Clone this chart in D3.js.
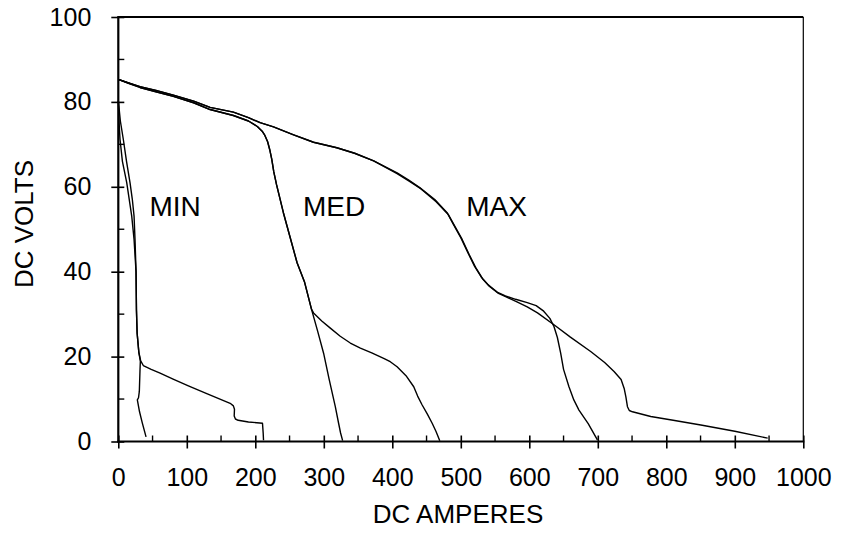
<!DOCTYPE html>
<html>
<head>
<meta charset="utf-8">
<script src="https://cdn.jsdelivr.net/npm/d3@7"></script>
<style>
  html, body { margin: 0; padding: 0; background: #fff; }
  svg { display: block; }
  text { font-family: "Liberation Sans", Arial, Helvetica, sans-serif; fill: #000; }
</style>
</head>
<body>
<svg id="chart" width="844" height="534"></svg>
<script>
// ---------- data (DC amperes, DC volts) ----------
const xTickValues = [0, 100, 200, 300, 400, 500, 600, 700, 800, 900, 1000];
const yTickValues = [0, 20, 40, 60, 80, 100];
const xMinorTicks = [50, 150, 250, 350, 450, 550, 650, 750, 850, 950];
const yMinorTicks = [10, 30, 50, 70, 90];

const curveLabels = ["MIN", "MED", "MAX"];
const labelAmps  = [45.5, 269.5, 508];
const labelVolts = [53.5, 53.5, 53.5];

const minA = [[0,80.3],[3,75.5],[7.3,71.2],[12,66],[17.1,61],[20.5,57],[23,53.1],[24.4,47.6],[25.9,40],[26.5,31],[27.5,25.5],[30,21],[32.7,19],
  [36.5,17.9],[48,17],[61,16.1],[80,14.7],[102.3,13.1],[130,11.2],[163.3,9],[168,8.4],[169.6,7.6],[169.2,6],[171,5.3],[175,5.0],[190,4.6],[210.5,4.3],[211.5,2],[212,0.3]];
const minB = [[0,80.3],[1.5,74],[2.5,71.2],[6,66],[12.3,61],[16,57],[19.6,53.1],[23,47.6],[25.9,40],[26.5,31],[27.5,25.5],[30,21],[32.2,18.9],
  [31.7,16.9],[30.7,11.8],[29.5,10.3],[27.8,9.8],[31,7],[35,4.4],[40.5,1.1]];

const medA = [[0,85.3],[15,84.4],[31.7,83.4],[55,82.4],[80.4,81.3],[110,79.8],[134,78.2],[168,76.8],[190,75.5],[203,74.2],[210,73.1],[214,72.1],
  [218,70.6],[221,68.8],[224,66.5],[227,63.5],[231,60.5],[241,53.9],[251,48],[261,42.1],[272,37.5],[282,31.2],
  [291,26],[299.7,20.8],[308,14.5],[316.8,8.2],[321.6,4.3],[324.5,2],[327.5,0.2]];
const medB = [[0,85.3],[15,84.4],[31.7,83.4],[55,82.4],[80.4,81.3],[110,79.8],[134,78.2],[168,76.8],[190,75.5],[203,74.2],[210,73.1],[214,72.1],
  [218,70.6],[221,68.8],[224,66.5],[227,63.5],[231,60.5],[241,53.9],[251,48],[261,42.1],[272,37.5],[282,31.2],
  [285,30.3],[297,28.4],[309.5,26.7],[324,24.8],[338.7,23.2],[353.4,22],[370,20.9],[387.4,19.6],[397,18.8],[407,17.6],
  [420,15.5],[431.3,12.9],[437,10.7],[443.6,8.6],[451,6.5],[458.2,4.3],[464,2.3],[469.3,0.2]];

const maxA = [[0,85.3],[15,84.5],[31.7,83.6],[55,82.7],[80.4,81.6],[110,80.2],[134,78.7],[168,77.6],[190,76.3],[207,75.1],[226.6,74.1],
  [255,72.3],[285,70.5],[319,69.2],[345,67.9],[372.8,66.1],[407,63.3],[424,61.6],[440,59.8],[462,57],[480,53.9],[490,50.9],
  [500,48],[510,44.6],[520,41.3],[530,38.7],[540,36.9],[553,35.2],[565,34.3],[580,33.5],[597,32.7],[610,32],[621,30.7],
  [630,29],[636,27.1],[641,24.5],[645.8,20.8],[650,17],[657.9,12.9],[665,9.8],[672.5,7.4],[686,4.2],[699.4,0.4]];
const maxB = [[0,85.3],[15,84.5],[31.7,83.6],[55,82.7],[80.4,81.6],[110,80.2],[134,78.7],[168,77.6],[190,76.3],[207,75.1],[226.6,74.1],
  [255,72.3],[285,70.5],[319,69.2],[345,67.9],[372.8,66.1],[407,63.1],[424,61.4],[442,59.5],[464,56.5],[482,53.4],[492,50.5],
  [502,47.6],[512,44.1],[522,40.9],[532,38.3],[542,36.5],[555,34.9],[567,34],[582,32.9],[597,31.7],[612,30.3],[636,27.5],
  [660,24.6],[689.6,21.2],[710,18.6],[723.7,16.5],[734,14.6],[738.5,12.5],[741,10.5],[743.3,8.2],[746,7.3],[750.6,7.0],
  [777.3,5.9],[810,5],[850.4,3.9],[900,2.4],[948,0.8]];

const seriesList = [minA, minB, medA, medB, maxA, maxB];

// ---------- layout ----------
const svg = d3.select("#chart");
const x = d3.scaleLinear().domain([0, 1000]).range([118.3, 803.3]);
const y = d3.scaleLinear().domain([0, 100]).range([441.5, 17]);

// curves
const line = d3.line().x(d => x(d[0])).y(d => y(d[1]));
svg.append("g").selectAll("path").data(seriesList).join("path")
  .attr("d", line)
  .attr("fill", "none")
  .attr("stroke", "#000")
  .attr("stroke-width", 1.4)
  .attr("stroke-linejoin", "round");

// frame: top and right
svg.append("line").attr("x1", x(0)).attr("x2", x(1000)).attr("y1", y(100)).attr("y2", y(100))
  .attr("stroke", "#000").attr("stroke-width", 1.8);
svg.append("line").attr("x1", x(1000)).attr("x2", x(1000)).attr("y1", y(100)).attr("y2", y(0))
  .attr("stroke", "#000").attr("stroke-width", 1.2);

// x axis (major ticks cross the axis, minor ticks inward)
const xAxis = svg.append("g").attr("transform", `translate(0,${y(0)})`)
  .call(d3.axisBottom(x).tickValues(xTickValues).tickSize(7).tickPadding(20).tickFormat(d3.format("d")));
xAxis.select(".domain").remove();
xAxis.selectAll(".tick line").attr("y1", -6).attr("y2", 7).attr("stroke-width", 1.6);
xAxis.selectAll(".tick text").attr("font-size", 25).attr("font-family", "Liberation Sans, Arial, sans-serif");
xAxis.append("g").selectAll("line").data(xMinorTicks).join("line")
  .attr("x1", d => x(d)).attr("x2", d => x(d)).attr("y1", -6).attr("y2", 0)
  .attr("stroke", "#000").attr("stroke-width", 1.4);
xAxis.append("line").attr("x1", x(0) - 1).attr("x2", x(1000) + 1).attr("y1", 0).attr("y2", 0)
  .attr("stroke", "#000").attr("stroke-width", 2.2);

// y axis
const yAxis = svg.append("g").attr("transform", `translate(${x(0)},0)`)
  .call(d3.axisLeft(y).tickValues(yTickValues).tickSize(7).tickPadding(20).tickFormat(d3.format("d")));
yAxis.select(".domain").remove();
yAxis.selectAll(".tick line").attr("x1", -7).attr("x2", 6).attr("stroke-width", 1.6);
yAxis.selectAll(".tick text").attr("font-size", 25).attr("font-family", "Liberation Sans, Arial, sans-serif");
yAxis.append("g").selectAll("line").data(yMinorTicks).join("line")
  .attr("x1", 0).attr("x2", 6).attr("y1", d => y(d)).attr("y2", d => y(d))
  .attr("stroke", "#000").attr("stroke-width", 1.4);
yAxis.append("line").attr("x1", 0).attr("x2", 0).attr("y1", y(100) - 1).attr("y2", y(0) + 1)
  .attr("stroke", "#000").attr("stroke-width", 2.2);

// curve labels
svg.append("g").selectAll("text").data(curveLabels).join("text")
  .attr("x", (d, i) => x(labelAmps[i]))
  .attr("y", (d, i) => y(labelVolts[i]) + 2)
  .attr("font-size", 28)
  .text(d => d);

// axis titles
svg.append("text").attr("x", 458).attr("y", 523).attr("text-anchor", "middle")
  .attr("font-size", 26).text("DC AMPERES");
svg.append("text").attr("transform", "translate(33,224) rotate(-90)").attr("text-anchor", "middle")
  .attr("font-size", 26).text("DC VOLTS");
</script>
</body>
</html>
